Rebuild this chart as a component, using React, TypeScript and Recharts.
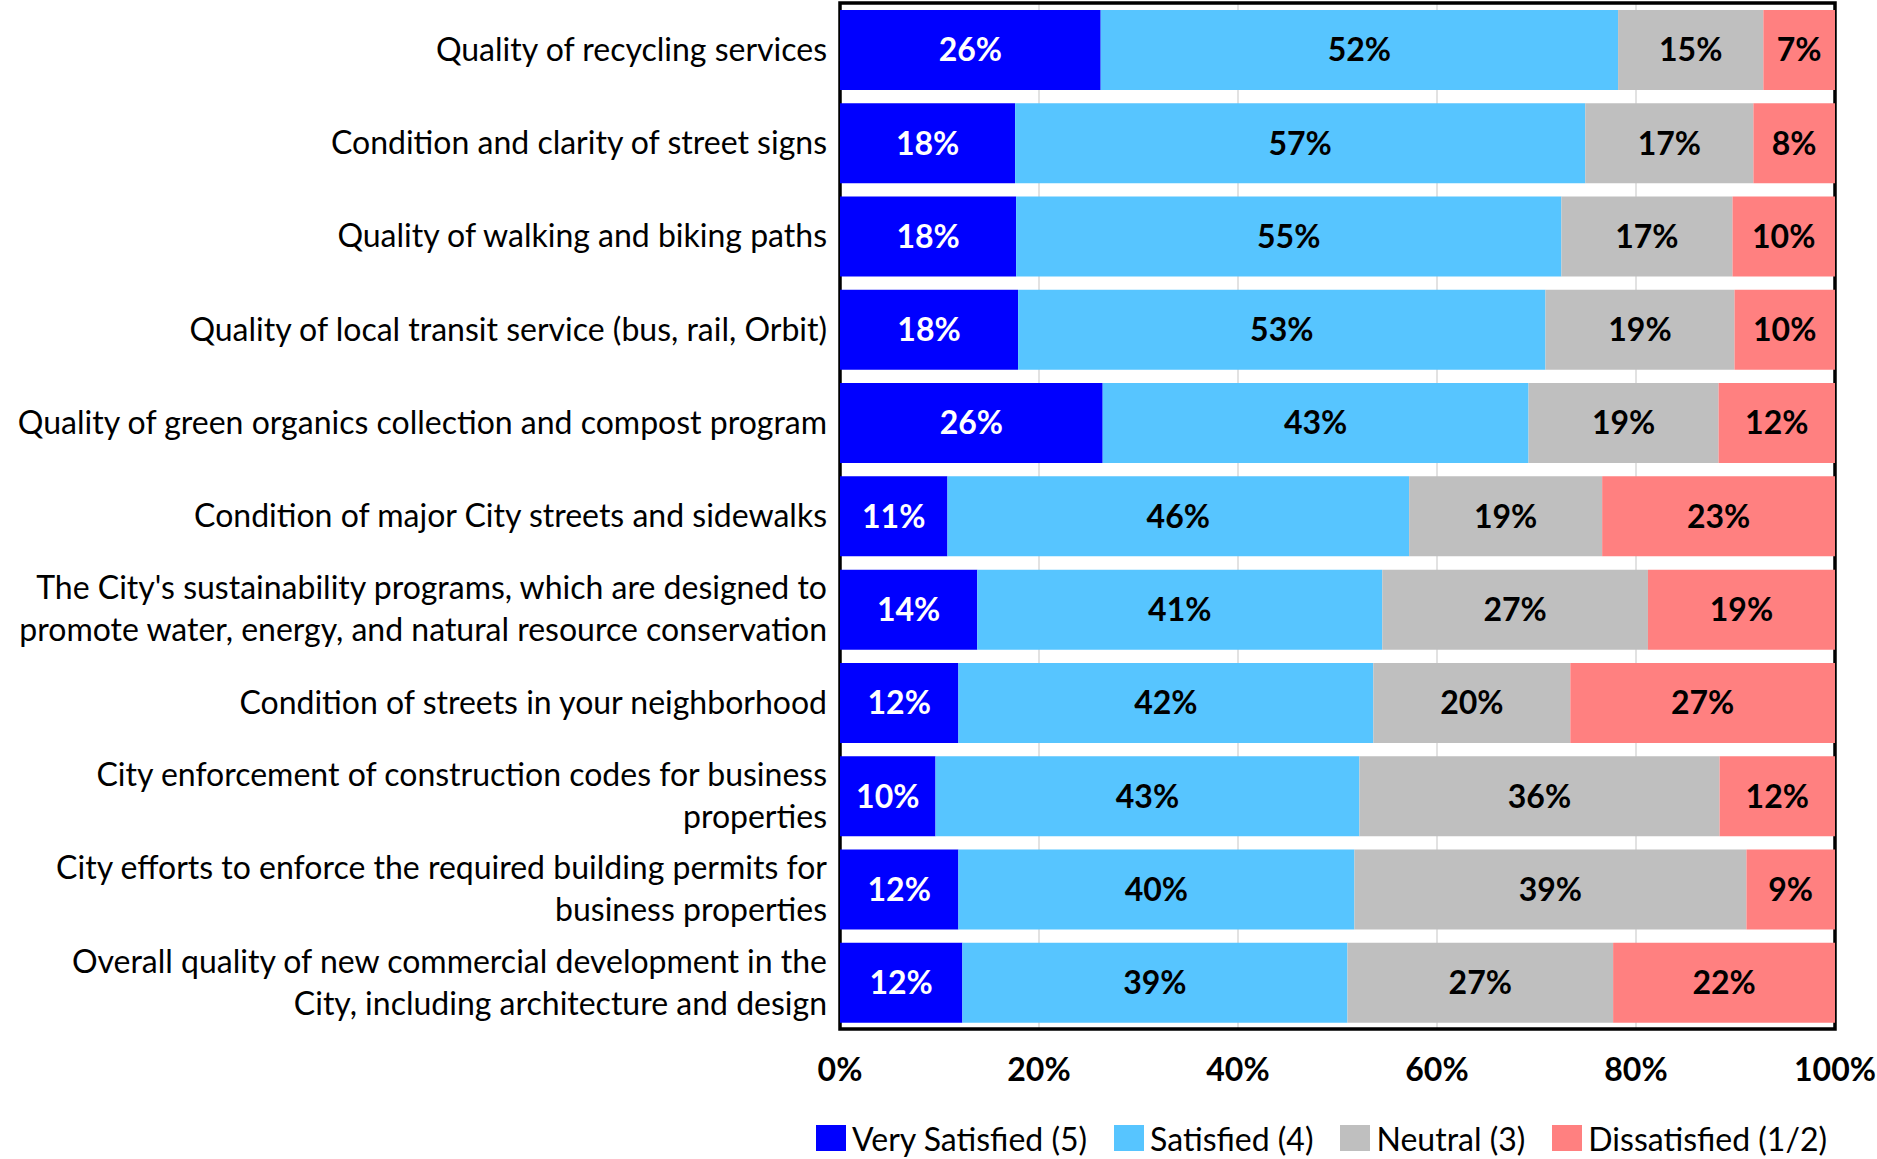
import React from "react";
import {
  BarChart,
  Bar,
  XAxis,
  YAxis,
  CartesianGrid,
  LabelList,
  Legend,
  ReferenceArea,
} from "recharts";

const categories: string[] = [
  "Quality of recycling services",
  "Condition and clarity of street signs",
  "Quality of walking and biking paths",
  "Quality of local transit service (bus, rail, Orbit)",
  "Quality of green organics collection and compost program",
  "Condition of major City streets and sidewalks",
  "The City's sustainability programs, which are designed to\npromote water, energy, and natural resource conservation",
  "Condition of streets in your neighborhood",
  "City enforcement of construction codes for business\nproperties",
  "City efforts to enforce the required building permits for\nbusiness properties",
  "Overall quality of new commercial development in the\nCity, including architecture and design",
];

const verySatisfied: number[] = [26.2, 17.6, 17.7, 17.9, 26.4, 10.8, 13.8, 11.9, 9.6, 11.9, 12.3];
const satisfied: number[] = [52.0, 57.3, 54.8, 53.0, 42.8, 46.4, 40.7, 41.7, 42.6, 39.8, 38.7];
const neutral: number[] = [14.6, 16.9, 17.2, 19.0, 19.1, 19.4, 26.7, 19.8, 36.2, 39.4, 26.7];
const dissatisfied: number[] = [7.2, 8.2, 10.3, 10.1, 11.7, 23.4, 18.8, 26.6, 11.6, 8.9, 22.3];

const xTicks: number[] = [0, 20, 40, 60, 80, 100];

const seriesNames: string[] = ["Very Satisfied (5)", "Satisfied (4)", "Neutral (3)", "Dissatisfied (1/2)"];
const seriesKeys: string[] = ["vs", "s", "n", "d"];
const seriesColors: string[] = ["#0000FF", "#57C5FF", "#BFBFBF", "#FF8080"];
const labelColors: string[] = ["#FFFFFF", "#000000", "#000000", "#000000"];

const data = categories.map((name, i) => ({
  name,
  vs: verySatisfied[i],
  s: satisfied[i],
  n: neutral[i],
  d: dissatisfied[i],
}));

const FONT = "Lato, 'Open Sans', sans-serif";

const CategoryTick = (props: any) => {
  const { x, y, payload } = props;
  const lines: string[] = String(payload.value).split("\n");
  const lh = 42;
  const start = -((lines.length - 1) * lh) / 2;
  return (
    <text x={x - 5} y={y} textAnchor="end" fontFamily={FONT} fontSize={32} fill="#000">
      {lines.map((l, i) => (
        <tspan key={i} x={x - 5} y={y + start + i * lh} dy="0.35em">
          {l}
        </tspan>
      ))}
    </text>
  );
};

const LegendContent = () => (
  <div
    style={{
      height: 42,
      display: "flex",
      alignItems: "center",
      marginLeft: 816,
      marginTop: 23,
      fontFamily: FONT,
      fontSize: 32,
      color: "#000",
      whiteSpace: "nowrap",
    }}
  >
    {seriesNames.map((n, i) => (
      <div key={n} style={{ display: "flex", alignItems: "center", marginRight: 27 }}>
        <div style={{ width: 30, height: 26, background: seriesColors[i], marginRight: 6 }} />
        <span>{n}</span>
      </div>
    ))}
  </div>
);

export default function App() {
  return (
    <div style={{ position: "absolute", left: 0, top: 0, background: "#fff" }}>
      <BarChart
        width={1877}
        height={1159}
        data={data}
        layout="vertical"
        margin={{ top: 3, right: 42, bottom: 0, left: 0 }}
        barSize={80}
      >
        <CartesianGrid horizontal={false} vertical={true} stroke="#D9D9D9" strokeWidth={1.5} />
        <XAxis
          type="number"
          domain={[0, 100]}
          ticks={xTicks}
          tickFormatter={(v: number) => `${v}%`}
          axisLine={false}
          tickLine={false}
          tickMargin={23}
          height={65}
          interval={0}
          tick={{ fontFamily: FONT, fontSize: 32, fontWeight: 700, fill: "#000" }}
        />
        <YAxis
          type="category"
          dataKey="name"
          width={840}
          axisLine={false}
          tickLine={false}
          interval={0}
          tick={<CategoryTick />}
        />
        {seriesKeys.map((k, i) => (
          <Bar
            key={k}
            dataKey={k}
            name={seriesNames[i]}
            stackId="a"
            fill={seriesColors[i]}
            isAnimationActive={false}
          >
            <LabelList
              dataKey={k}
              position="center"
              formatter={(v: any) => `${Math.round(Number(v))}%`}
              fill={labelColors[i]}
              style={{ fontFamily: FONT, fontSize: 32, fontWeight: 700, fill: labelColors[i] }}
            />
          </Bar>
        ))}
        <ReferenceArea x1={0} x2={100} fill="none" stroke="#000" strokeWidth={3.5} fillOpacity={0} />
        <Legend verticalAlign="bottom" content={<LegendContent />} />
      </BarChart>
    </div>
  );
}
